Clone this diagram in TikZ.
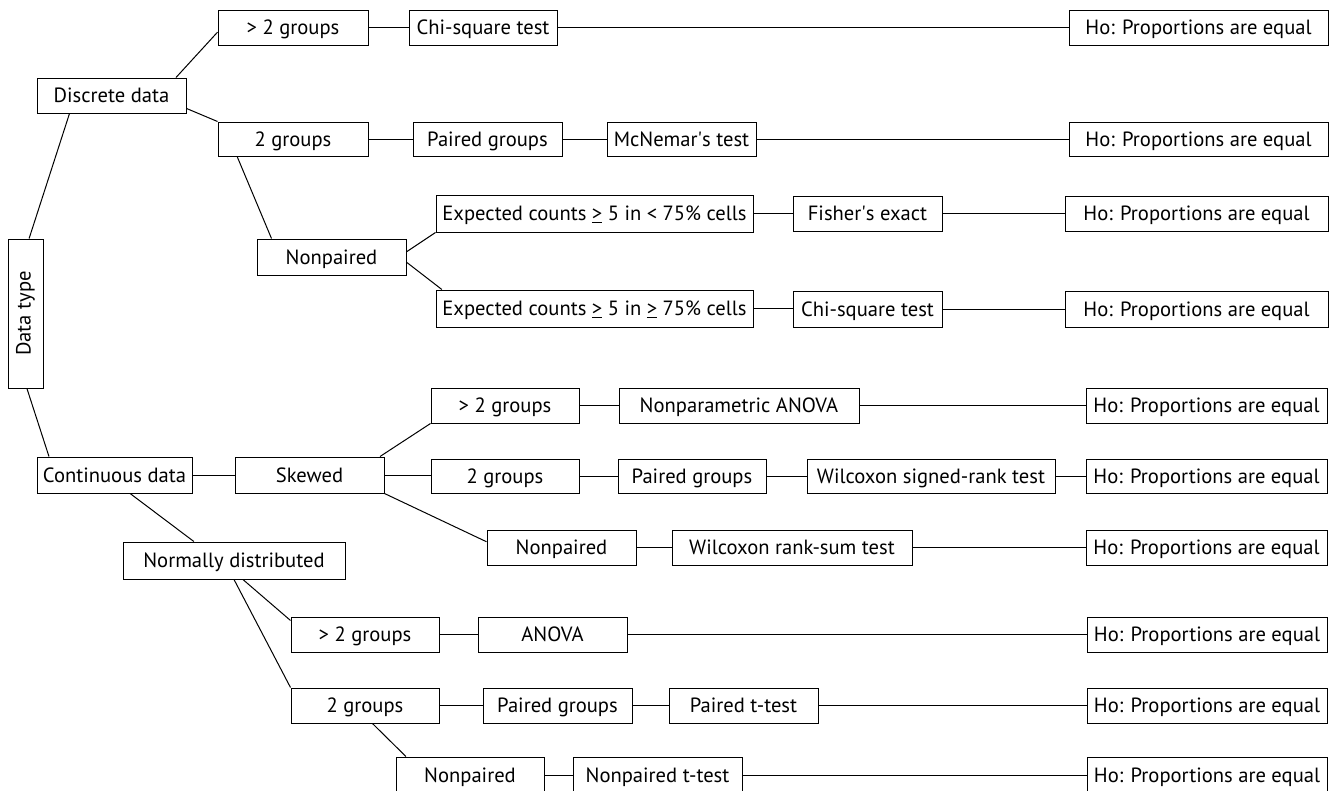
\documentclass[tikz,border=0pt]{standalone}
\usepackage{fontspec}
\setmainfont{PT Sans}
\usepackage{graphicx}
\usetikzlibrary{calc}
\tikzset{
  bx/.style={draw=black, line width=1pt, inner sep=0pt, fill=white, font=\fontsize{20.6}{22}\selectfont, text height=14pt, text depth=0pt},
  bxr/.style={bx, text height=, text depth=},
  ln/.style={line width=1pt, draw=black}
}
\newcommand\B[6]{\node[bx, minimum width=#4pt-#2pt, minimum height=#5pt-#3pt] (#1) at ({(#2+#4)/2},{(#3+#5)/2}) {#6};}
\newcommand\HL[2]{\draw[ln] (#1.east) -- (#1.east -| #2.west);}
\newcommand\ho{Ho: Proportions are equal}
\newcommand\aq{\textquotesingle}
\begin{document}
\begin{tikzpicture}[x=1pt,y=-1pt]
\useasboundingbox (0,0) rectangle (1330,790);
\clip (0,0) rectangle (1330,790);
% upper part
\node[bxr, minimum width=35pt, minimum height=149pt] (dt) at (25.5,313.5) {\rotatebox{90}{Data type}};
\B{dd}{37}{78}{186}{113}{Discrete data}
\B{ga}{218}{10}{368}{45}{> 2 groups}
\B{ca}{409}{10}{557}{45}{Chi-square test}
\B{ha}{1069}{10}{1328}{45}{\ho}
\B{gb}{218}{122}{368}{156}{2 groups}
\B{pb}{413}{122}{562}{156}{Paired groups}
\B{mb}{607}{122}{756}{156}{McNemar\aq s test}
\B{hb}{1069}{122}{1328}{156}{\ho}
\B{nc}{257}{239}{406}{275}{Nonpaired}
\B{ec}{436}{195}{753}{232}{Expected counts \underline{>} 5 in < 75\% cells}
\B{fc}{793}{196}{942}{231}{Fisher\aq s exact}
\B{hc}{1065}{196}{1328}{231}{\ho}
\B{ed}{436}{290}{753}{327}{Expected counts \underline{>} 5 in \underline{>} 75\% cells}
\B{cx}{793}{291}{942}{327}{Chi-square test}
\B{hd}{1065}{291}{1328}{327}{\ho}
% lower part
\B{cn}{37}{457}{192}{493}{Continuous data}
\B{sk}{235}{457}{384}{493}{Skewed}
\B{ge}{431}{388}{579}{423}{> 2 groups}
\B{na}{619}{388}{859}{423}{Nonparametric ANOVA}
\B{he}{1086}{388}{1327}{423}{\ho}
\B{gf}{431}{459}{579}{493}{2 groups}
\B{pf}{618}{459}{766}{493}{Paired groups}
\B{wf}{807}{459}{1055}{493}{Wilcoxon signed-rank test}
\B{hf}{1086}{459}{1327}{493}{\ho}
\B{ng}{487}{530}{636}{565}{Nonpaired}
\B{wg}{672}{530}{912}{565}{Wilcoxon rank-sum test}
\B{hg}{1086}{530}{1327}{565}{\ho}
\B{nd}{123}{542}{345}{579}{Normally distributed}
\B{gh}{291}{617}{439}{652}{> 2 groups}
\B{ah}{478}{617}{627}{652}{ANOVA}
\B{hh}{1087}{617}{1327}{652}{\ho}
\B{gi}{291}{688}{439}{723}{2 groups}
\B{pi}{483}{688}{632}{723}{Paired groups}
\B{ti}{669}{688}{818}{723}{Paired t-test}
\B{hi}{1087}{688}{1327}{723}{\ho}
\B{nj}{396}{757}{544}{794}{Nonpaired}
\B{tj}{573}{757}{742}{794}{Nonpaired t-test}
\B{hj}{1087}{757}{1327}{794}{\ho}
% connectors, upper
\draw[ln] ($(dt.north west)!0.6!(dt.north east)$) -- ($(dd.south west)!0.22!(dd.south east)$);
\draw[ln] ($(dd.north west)!0.93!(dd.north east)$) -- ($(ga.north west)!0.63!(ga.south west)$);
\draw[ln] ($(dd.north east)!0.86!(dd.south east)$) -- (gb.north west);
\draw[ln] ($(gb.south west)!0.13!(gb.south east)$) -- ($(nc.north west)!0.1!(nc.north east)$);
\draw[ln] ($(nc.north east)!0.36!(nc.south east)$) -- (ec.south west);
\draw[ln] ($(nc.north east)!0.64!(nc.south east)$) -- ($(ed.north west)!0.02!(ed.north east)$);
\HL{ga}{ca}\HL{ca}{ha}
\HL{gb}{pb}\HL{pb}{mb}\HL{mb}{hb}
\HL{ec}{fc}\HL{fc}{hc}
\HL{ed}{cx}\HL{cx}{hd}
% connectors, lower
\draw[ln] ($(dt.south west)!0.54!(dt.south east)$) -- ($(cn.north west)!0.08!(cn.north east)$);
\HL{cn}{sk}
\draw[ln] ($(sk.north west)!0.97!(sk.north east)$) -- (ge.south west);
\HL{sk}{gf}
\draw[ln] (sk.south east) -- ($(ng.north west)!0.34!(ng.south west)$);
\draw[ln] ($(cn.south west)!0.6!(cn.south east)$) -- ($(nd.north west)!0.32!(nd.north east)$);
\draw[ln] ($(nd.south west)!0.54!(nd.south east)$) -- ($(gh.north west)!0.11!(gh.south west)$);
\draw[ln] ($(nd.south west)!0.5!(nd.south east)$) -- (gi.north west);
\draw[ln] ($(gi.south west)!0.55!(gi.south east)$) -- ($(nj.north west)!0.07!(nj.north east)$);
\HL{ge}{na}\HL{na}{he}
\HL{gf}{pf}\HL{pf}{wf}\HL{wf}{hf}
\HL{ng}{wg}\HL{wg}{hg}
\HL{gh}{ah}\HL{ah}{hh}
\HL{gi}{pi}\HL{pi}{ti}\HL{ti}{hi}
\HL{nj}{tj}\HL{tj}{hj}
\end{tikzpicture}
\end{document}
